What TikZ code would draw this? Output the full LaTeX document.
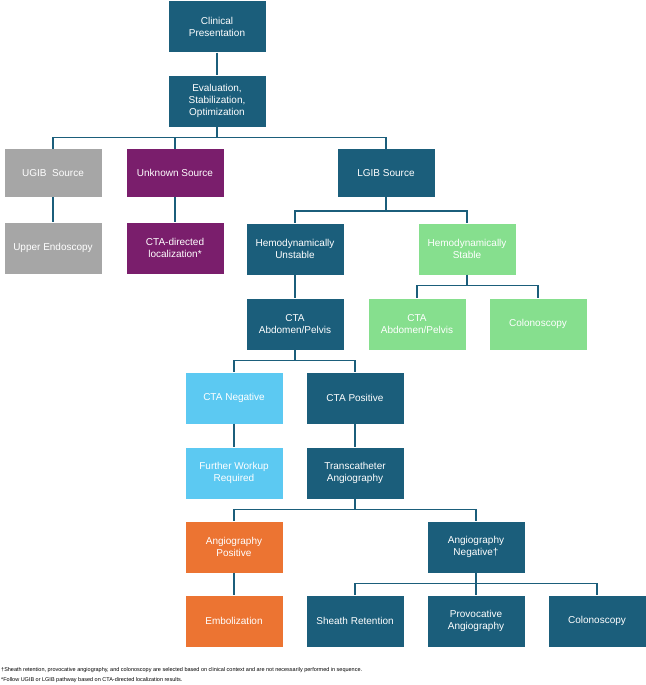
\documentclass[tikz,border=0pt]{standalone}
\usepackage{fontspec}
\setmainfont{Liberation Sans}
\begin{document}
\definecolor{teal1}{HTML}{1B5E7B}
\definecolor{gray1}{HTML}{A6A6A6}
\definecolor{purp}{HTML}{7A1E6C}
\definecolor{lgreen}{HTML}{86DF8E}
\definecolor{lblue}{HTML}{5CC9F2}
\definecolor{orng}{HTML}{EC7432}
\begin{tikzpicture}[x=1pt,y=-1pt,
 box/.style={draw=none,fill=#1,text=white,minimum width=97pt,minimum height=51pt,align=center,font=\fontsize{10}{12}\selectfont,inner sep=1pt},
 conn/.style={draw=teal1,line width=1.5pt}]
\useasboundingbox (0,0) rectangle (645,685);
\node[box=teal1] (cp) at (217,27) {Clinical\\Presentation};
\node[box=teal1] (ev) at (217,101) {Evaluation,\\Stabilization,\\Optimization};
\node[box=gray1,minimum height=48pt] (ug) at (53,173) {UGIB\ \ Source};
\node[box=purp,minimum height=48pt] (un) at (175,173) {Unknown Source};
\node[box=teal1,minimum height=48pt] (lg) at (386,173) {LGIB Source};
\node[box=gray1] (ue) at (53,248) {Upper Endoscopy};
\node[box=purp] (cd) at (175,248) {CTA-directed\\localization*};
\node[box=teal1] (hu) at (295,249) {Hemodynamically\\Unstable};
\node[box=lgreen] (hs) at (467,249) {Hemodynamically\\Stable};
\node[box=teal1] (cu) at (295,324) {CTA\\Abdomen/Pelvis};
\node[box=lgreen] (cs) at (417,324) {CTA\\Abdomen/Pelvis};
\node[box=lgreen] (co) at (538,324) {Colonoscopy};
\node[box=lblue] (cn) at (234,398) {CTA Negative};
\node[box=teal1] (cpo) at (355,398) {CTA Positive};
\node[box=lblue] (fw) at (234,473) {Further Workup\\Required};
\node[box=teal1] (ta) at (355,473) {Transcatheter\\Angiography};
\node[box=orng] (ap) at (234,547) {Angiography\\Positive};
\node[box=teal1] (an) at (476,547) {Angiography\\Negative†};
\node[box=orng] (em) at (234,621) {Embolization};
\node[box=teal1] (sr) at (355,621) {Sheath Retention};
\node[box=teal1] (pa) at (476,621) {Provocative\\Angiography};
\node[box=teal1] (c2) at (597,621) {Colonoscopy};
\draw[conn] (cp) -- (ev);
\draw[conn] (ev.south) -- ++(0,11) -| (ug.north);
\draw[conn] (ev.south) -- ++(0,11) -| (un.north);
\draw[conn] (ev.south) -- ++(0,11) -| (lg.north);
\draw[conn] (ug) -- (ue);
\draw[conn] (un) -- (cd);
\draw[conn] (lg.south) -- ++(0,14) -| (hu.north);
\draw[conn] (lg.south) -- ++(0,14) -| (hs.north);
\draw[conn] (hu) -- (cu);
\draw[conn] (hs.south) -- ++(0,11) -| (cs.north);
\draw[conn] (hs.south) -- ++(0,11) -| (co.north);
\draw[conn] (cu.south) -- ++(0,11) -| (cn.north);
\draw[conn] (cu.south) -- ++(0,11) -| (cpo.north);
\draw[conn] (cn) -- (fw);
\draw[conn] (cpo) -- (ta);
\draw[conn] (ta.south) -- ++(0,11) -| (ap.north);
\draw[conn] (ta.south) -- ++(0,11) -| (an.north);
\draw[conn] (ap) -- (em);
\draw[conn] (an.south) -- ++(0,11) -| (sr.north);
\draw[conn] (an.south) -- ++(0,11) -| (pa.north);
\draw[conn] (an.south) -- ++(0,11) -| (c2.north);
\node[anchor=west,inner sep=0,font=\fontsize{5.5}{6.5}\selectfont] (f1) at (1,670) {†Sheath retention, provocative angiography, and colonoscopy are selected based on clinical context and are not necessarily performed in sequence.};
\node[anchor=west,inner sep=0,font=\fontsize{5.5}{6.5}\selectfont] (f2) at (1,680) {*Follow UGIB or LGIB pathway based on CTA-directed localization results.};
\end{tikzpicture}
\end{document}
